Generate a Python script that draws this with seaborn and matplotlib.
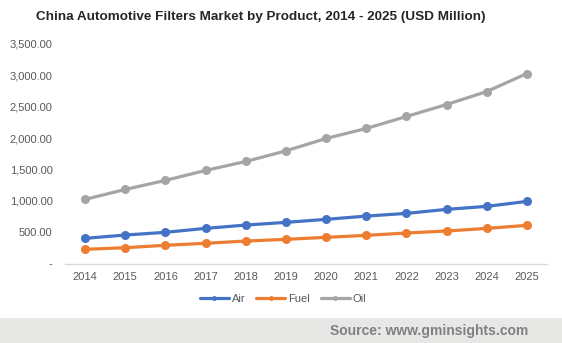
import matplotlib
matplotlib.use("Agg")
import matplotlib.pyplot as plt
import seaborn as sns
import pandas as pd
from matplotlib.ticker import FuncFormatter
from matplotlib.patches import Rectangle

years = ["2014", "2015", "2016", "2017", "2018", "2019", "2020", "2021", "2022", "2023", "2024", "2025"]
air = [401, 454, 497, 560, 613, 656, 704, 756, 799, 863, 911, 990]
fuel = [226, 252, 290, 322, 358, 385, 417, 449, 486, 518, 560, 608]
oil = [1022, 1181, 1325, 1484, 1627, 1796, 1994, 2153, 2344, 2535, 2742, 3029]
series_names = ["Air", "Fuel", "Oil"]
colors = ["#4472C4", "#ED7D31", "#A5A5A5"]
yticks = [0, 500, 1000, 1500, 2000, 2500, 3000, 3500]

df = pd.DataFrame({
    "Year": years * 3,
    "Value": air + fuel + oil,
    "Product": [series_names[0]] * len(years) + [series_names[1]] * len(years) + [series_names[2]] * len(years),
})

sns.set_theme(style="white")
plt.rcParams["font.family"] = ["Liberation Sans", "DejaVu Sans"]

fig = plt.figure(figsize=(5.62, 3.43), dpi=100)
ax = fig.add_axes([65 / 562, 1 - 263.5 / 343, 482 / 562, 219.5 / 343])

sns.lineplot(data=df, x="Year", y="Value", hue="Product", palette=colors,
             marker="o", markersize=6.5, markeredgewidth=0, linewidth=2.3,
             ax=ax, sort=False)

ax.set_xlim(-0.5, len(years) - 0.5)
ax.set_ylim(0, 3500)
ax.set_yticks(yticks)
ax.yaxis.set_major_formatter(FuncFormatter(lambda v, p: "-" if v == 0 else f"{v:,.2f}"))
ax.set_xlabel("")
ax.set_ylabel("")
ax.tick_params(axis="both", length=0, labelsize=8, colors="#595959")
ax.tick_params(axis="y", pad=9)
ax.tick_params(axis="x", pad=6)
for s in ["top", "right", "left"]:
    ax.spines[s].set_visible(False)
ax.spines["bottom"].set_color("#d9d9d9")
ax.spines["bottom"].set_linewidth(1)
ax.grid(False)

handles, labels = ax.get_legend_handles_labels()
ax.legend_.remove()
for h in handles:
    h.set_markersize(3.5)
fig.legend(handles, labels, loc="center", bbox_to_anchor=(283 / 562, 1 - 299 / 343),
           ncol=3, frameon=False, fontsize=8, handlelength=2.6, handletextpad=0.25,
           columnspacing=1.0, labelcolor="#595959")

fig.patches.append(Rectangle((0, 0), 1, 25 / 343, transform=fig.transFigure,
                             facecolor="#e7e7e6", edgecolor="none", zorder=0))
fig.text(528 / 562, 1 - 331 / 343, "Source: www.gminsights.com", ha="right", va="center",
         fontsize=10, fontweight="bold", color="#808080")

fig.text(260.5 / 562, 1 - 17 / 343, "China Automotive Filters Market by Product, 2014 - 2025 (USD Million)",
         ha="center", va="center", fontsize=9.7, fontweight="bold", color="#262626")

fig.savefig("out.png", dpi=100, facecolor="white")
